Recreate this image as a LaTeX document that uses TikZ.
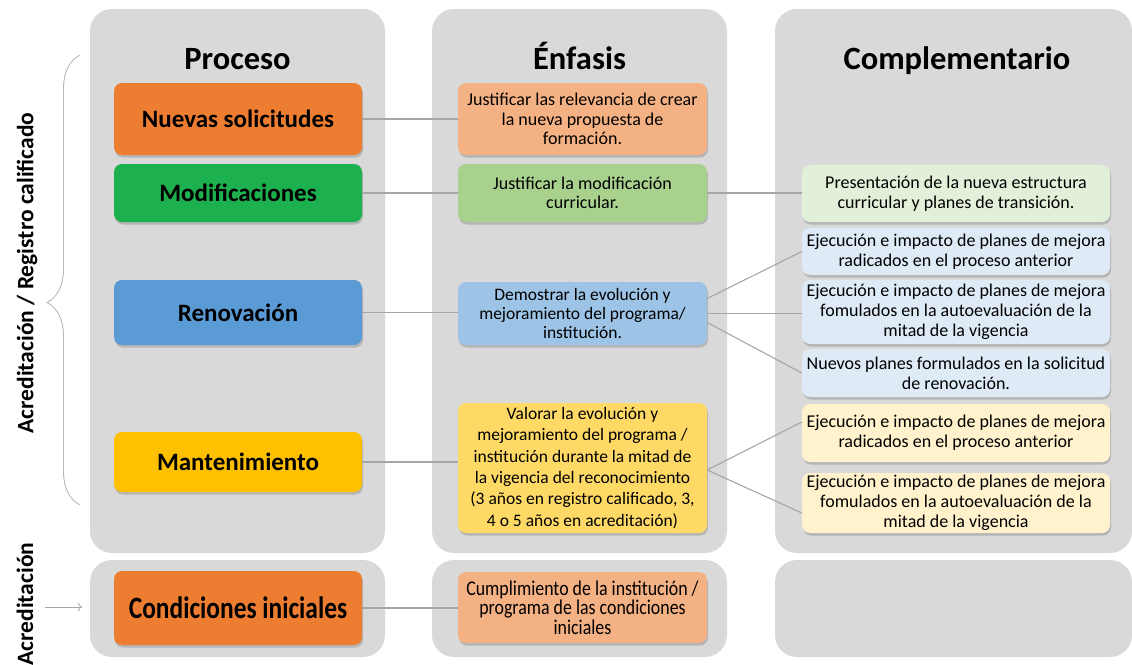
\documentclass[tikz,border=0pt]{standalone}
\usepackage{fontspec}
\setmainfont{Carlito}
\newfontfamily\condfont[FakeStretch=0.82]{Carlito}
\newfontfamily\condfontb[FakeStretch=0.85]{Carlito}
\usetikzlibrary{shadows,decorations.pathreplacing,arrows.meta}
\definecolor{bggray}{HTML}{D9D9D9}
\definecolor{linegray}{HTML}{A6A6A6}
\definecolor{corange}{HTML}{ED7D31}
\definecolor{cgreen}{HTML}{1DB04F}
\definecolor{cblue}{HTML}{5B9BD5}
\definecolor{cgold}{HTML}{FFC000}
\definecolor{lorange}{HTML}{F4B183}
\definecolor{lgreen}{HTML}{A9D18E}
\definecolor{lblue}{HTML}{9DC3E6}
\definecolor{lgold}{HTML}{FFD966}
\definecolor{vlgreen}{HTML}{E2F0D9}
\definecolor{vlblue}{HTML}{DEEBF7}
\definecolor{vlgold}{HTML}{FFF2CC}
\tikzset{
  bg/.style={fill=bggray, rounded corners=22pt},
  shad/.style={drop shadow={opacity=0.4, shadow xshift=1pt, shadow yshift=-2.5pt}},
  pbox/.style={shad, rounded corners=8pt, minimum width=248pt, inner sep=2pt, align=center,
    font=\fontsize{25}{29}\selectfont\bfseries},
  ebox/.style={shad, rounded corners=8pt, minimum width=249pt, inner sep=2pt, align=center,
    font=\fontsize{18}{19.5}\selectfont},
  cbox/.style={shad, rounded corners=8pt, minimum width=308pt, inner sep=2pt, align=center,
    font=\fontsize{18}{20}\selectfont},
  head/.style={anchor=base, font=\fontsize{32.5}{36}\selectfont\bfseries},
  side/.style={rotate=90, font=\fontsize{23.5}{26}\selectfont\bfseries},
  conn/.style={draw=linegray, line width=1.1pt}
}
\begin{document}
\begin{tikzpicture}[x=1pt,y=-1pt]
\useasboundingbox (0,0) rectangle (1132,664);
% backgrounds
\fill[bg] (90,9) rectangle (385,553);
\fill[bg] (432,9) rectangle (727,553);
\fill[bg] (775,9) rectangle (1132,553);
\fill[bg] (90,560) rectangle (385,657);
\fill[bg] (432,560) rectangle (727,657);
\fill[bg] (775,560) rectangle (1132,657);
% headers
\node[head] (h1) at (237.5,69) {Proceso};
\node[head] (h2) at (579.5,69) {Énfasis};
\node[head] (h3) at (957,69) {Complementario};
% proceso
\node[pbox, fill=corange, minimum height=72pt] (ns) at (238,119) {Nuevas solicitudes};
\node[pbox, fill=cgreen, minimum height=58pt] (mod) at (238,193) {Modificaciones};
\node[pbox, fill=cblue, minimum height=65pt] (ren) at (238,312.5) {Renovación};
\node[pbox, fill=cgold, minimum height=60pt] (man) at (238,462) {Mantenimiento};
\node[pbox, fill=corange, minimum height=74pt, font=\fontsize{31}{34}\selectfont\condfont\bfseries] (ci) at (238,608) {Condiciones iniciales};
% enfasis
\node[ebox, fill=lorange, minimum height=72pt] (e1) at (582.5,119) {Justificar las relevancia de crear\\la nueva propuesta de\\formación.};
\node[ebox, fill=lgreen, minimum height=58pt] (e2) at (582.5,193) {Justificar la modificación\\curricular.};
\node[ebox, fill=lblue, minimum height=63pt, font=\fontsize{17.5}{19}\selectfont] (e3) at (582.5,313.5) {Demostrar la evolución y\\mejoramiento del programa/\\institución.};
\node[ebox, fill=lgold, minimum height=130pt, font=\fontsize{17.5}{21.3}\selectfont] (e4) at (582.5,468) {Valorar la evolución y\\mejoramiento del programa /\\institución durante la mitad de\\la vigencia del reconocimiento\\(3 años en registro calificado, 3,\\4 o 5 años en acreditación)};
\node[ebox, fill=lorange, minimum height=71pt, font=\fontsize{21}{19.5}\selectfont\condfontb] (e5) at (582.5,607.5) {Cumplimiento de la institución /\\programa de las condiciones\\iniciales};
% complementario
\node[cbox, fill=vlgreen, minimum height=57pt] (c1) at (956,193.5) {Presentación de la nueva estructura\\curricular y planes de transición.};
\node[cbox, fill=vlblue, minimum height=47pt] (c2) at (956,251.5) {Ejecución e impacto de planes de mejora\\radicados en el proceso anterior};
\node[cbox, fill=vlblue, minimum height=64pt] (c3) at (956,312) {Ejecución e impacto de planes de mejora\\fomulados en la autoevaluación de la\\mitad de la vigencia};
\node[cbox, fill=vlblue, minimum height=48pt] (c4) at (956,373) {Nuevos planes formulados en la solicitud\\de renovación.};
\node[cbox, fill=vlgold, minimum height=58pt] (c5) at (956,433) {Ejecución e impacto de planes de mejora\\radicados en el proceso anterior};
\node[cbox, fill=vlgold, minimum height=60pt] (c6) at (956,503) {Ejecución e impacto de planes de mejora\\fomulados en la autoevaluación de la\\mitad de la vigencia};
% connectors
\draw[conn] (ns.east) -- (e1.west |- ns.east);
\draw[conn] (mod.east) -- (e2.west);
\draw[conn] (e2.east) -- (c1.west |- e2.east);
\draw[conn] (ren.east) -- (e3.west |- ren.east);
\draw[conn] ([yshift=15pt]e3.east) -- (c2.west);
\draw[conn] (e3.east) -- (c3.west |- e3.east);
\draw[conn] ([yshift=-9pt]e3.east) -- (c4.west);
\draw[conn] (man.east) -- (e4.west |- man.east);
\draw[conn] ([yshift=-2pt]e4.east) -- ([yshift=11pt]c5.west);
\draw[conn] ([yshift=-2pt]e4.east) -- ([yshift=-10pt]c6.west);
\draw[conn] (ci.east) -- (e5.west |- ci.east);
% left labels
\node[side] (lab1) at (27,273) {Acreditación / Registro calificado};
\node[side] (lab2) at (25,604) {Acreditación};
\coordinate (brT) at (80,55);
\coordinate (brB) at (80,505);
\draw[draw=linegray!80, line width=0.9pt, decorate, decoration={brace, amplitude=33pt, aspect=0.45}] (brB) -- (brT);
\coordinate (arS) at (45,607);
\coordinate (arE) at (82,607);
\draw[draw=linegray, line width=0.8pt, -{To[length=4pt]}] (arS) -- (arE);
\end{tikzpicture}
\end{document}
